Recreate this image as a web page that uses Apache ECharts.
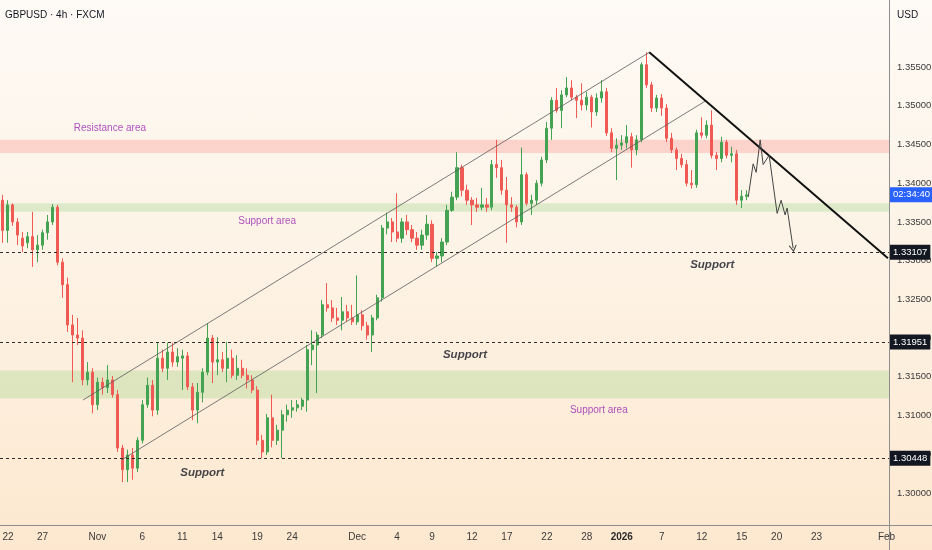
<!DOCTYPE html>
<html><head><meta charset="utf-8">
<script src="https://cdn.jsdelivr.net/npm/echarts@6/dist/echarts.min.js"></script>
<style>
html,body{margin:0;padding:0;}
body{width:932px;height:550px;overflow:hidden;background:linear-gradient(to bottom,#fefaf5 0%,#fdf4e8 40%,#fde8cf 100%);}
#chart{width:932px;height:550px;}
</style></head><body><div id="chart"></div>
<script>
// ---- data ----
const opens=[1.3378,1.3339,1.3372,1.3350,1.3329,1.3323,1.3331,1.3314,1.3320,1.3336,1.3350,1.3369,1.3298,1.3269,1.3217,1.3204,1.3200,1.3146,1.3156,1.3114,
1.3143,1.3136,1.3146,1.3127,1.3058,1.3030,1.3049,1.3032,1.3068,1.3114,1.3139,1.3107,1.3174,1.3161,1.3182,1.3169,1.3174,1.3177,1.3137,1.3107,
1.3130,1.3156,1.3200,1.3169,1.3172,1.3161,1.3174,1.3152,1.3161,1.3152,1.3146,1.3133,1.3068,1.3053,1.3097,1.3068,1.3081,1.3101,1.3107,1.3110,
1.3112,1.3120,1.3185,1.3191,1.3204,1.3243,1.3239,1.3226,1.3223,1.3234,1.3226,1.3221,1.3230,1.3216,1.3204,1.3226,1.3252,1.3342,1.3350,1.3337,
1.3329,1.3350,1.3340,1.3329,1.3320,1.3333,1.3347,1.3303,1.3306,1.3324,1.3365,1.3382,1.3420,1.3391,1.3378,1.3372,1.3369,1.3372,1.3369,1.3424,
1.3420,1.3391,1.3372,1.3369,1.3350,1.3411,1.3374,1.3378,1.3400,1.3430,1.3471,1.3507,1.3494,1.3514,1.3523,1.3511,1.3507,1.3501,1.3511,1.3492,
1.3510,1.3518,1.3465,1.3445,1.3449,1.3452,1.3460,1.3443,1.3456,1.3553,1.3527,1.3497,1.3510,1.3497,1.3458,1.3443,1.3432,1.3424,1.3400,1.3398,
1.3465,1.3462,1.3475,1.3436,1.3432,1.3453,1.3436,1.3438,1.3378,1.3383];
const closes=[1.3339,1.3372,1.3350,1.3333,1.3319,1.3331,1.3314,1.3320,1.3336,1.3350,1.3369,1.3298,1.3269,1.3217,1.3204,1.3200,1.3146,1.3156,1.3114,1.3143,
1.3136,1.3146,1.3127,1.3058,1.3030,1.3049,1.3032,1.3068,1.3114,1.3139,1.3107,1.3174,1.3161,1.3182,1.3169,1.3176,1.3177,1.3137,1.3107,1.3130,
1.3156,1.3200,1.3169,1.3172,1.3161,1.3174,1.3152,1.3161,1.3152,1.3146,1.3133,1.3068,1.3053,1.3097,1.3068,1.3081,1.3101,1.3107,1.3110,1.3114,
1.3120,1.3185,1.3191,1.3204,1.3243,1.3239,1.3226,1.3223,1.3234,1.3226,1.3221,1.3230,1.3216,1.3204,1.3226,1.3252,1.3342,1.3350,1.3337,1.3329,
1.3350,1.3340,1.3329,1.3320,1.3333,1.3347,1.3303,1.3306,1.3324,1.3365,1.3382,1.3420,1.3391,1.3378,1.3372,1.3369,1.3372,1.3369,1.3424,1.3420,
1.3391,1.3372,1.3369,1.3350,1.3411,1.3374,1.3378,1.3400,1.3430,1.3471,1.3507,1.3494,1.3514,1.3523,1.3511,1.3507,1.3501,1.3511,1.3492,1.3510,
1.3518,1.3465,1.3445,1.3449,1.3452,1.3460,1.3443,1.3456,1.3553,1.3527,1.3497,1.3510,1.3497,1.3458,1.3443,1.3432,1.3424,1.3400,1.3398,1.3465,
1.3462,1.3475,1.3436,1.3432,1.3453,1.3436,1.3438,1.3378,1.3383,1.3385];
const lows=[1.3323,1.3323,1.3345,1.3320,1.3311,1.3316,1.3292,1.3298,1.3314,1.3327,1.3346,1.3294,1.3252,1.3208,1.3143,1.3191,1.3139,1.3139,1.3103,1.3107,
1.3127,1.3129,1.3123,1.3053,1.3014,1.3014,1.3017,1.3027,1.3064,1.3110,1.3099,1.3101,1.3156,1.3146,1.3163,1.3163,1.3133,1.3133,1.3094,1.3090,
1.3117,1.3152,1.3142,1.3152,1.3156,1.3143,1.3148,1.3146,1.3148,1.3135,1.3129,1.3062,1.3045,1.3049,1.3059,1.3062,1.3045,1.3092,1.3097,1.3105,
1.3107,1.3105,1.3165,1.3129,1.3200,1.3234,1.3221,1.3217,1.3210,1.3221,1.3217,1.3217,1.3210,1.3198,1.3182,1.3223,1.3247,1.3334,1.3324,1.3324,
1.3323,1.3333,1.3324,1.3314,1.3314,1.3327,1.3298,1.3292,1.3298,1.3320,1.3363,1.3378,1.3383,1.3372,1.3346,1.3363,1.3365,1.3363,1.3365,1.3407,
1.3385,1.3323,1.3363,1.3343,1.3346,1.3371,1.3359,1.3372,1.3396,1.3426,1.3456,1.3491,1.3471,1.3511,1.3507,1.3484,1.3494,1.3494,1.3472,1.3487,
1.3504,1.3461,1.3440,1.3404,1.3443,1.3445,1.3420,1.3436,1.3453,1.3523,1.3492,1.3492,1.3487,1.3453,1.3439,1.3417,1.3420,1.3396,1.3393,1.3394,
1.3458,1.3458,1.3432,1.3417,1.3427,1.3432,1.3427,1.3372,1.3368,1.3378];
const highs=[1.3385,1.3378,1.3374,1.3355,1.3337,1.3337,1.3363,1.3333,1.3340,1.3359,1.3373,1.3372,1.3303,1.3278,1.3230,1.3226,1.3210,1.3169,1.3161,1.3149,
1.3149,1.3165,1.3151,1.3133,1.3062,1.3056,1.3058,1.3072,1.3120,1.3149,1.3146,1.3194,1.3185,1.3194,1.3194,1.3187,1.3185,1.3182,1.3142,1.3142,
1.3161,1.3219,1.3204,1.3201,1.3182,1.3195,1.3185,1.3178,1.3172,1.3161,1.3152,1.3138,1.3075,1.3102,1.3127,1.3088,1.3107,1.3114,1.3120,1.3120,
1.3123,1.3191,1.3210,1.3208,1.3249,1.3271,1.3249,1.3239,1.3253,1.3243,1.3243,1.3281,1.3236,1.3221,1.3230,1.3256,1.3346,1.3362,1.3355,1.3387,
1.3355,1.3359,1.3346,1.3337,1.3340,1.3359,1.3352,1.3311,1.3329,1.3372,1.3389,1.3440,1.3424,1.3398,1.3382,1.3381,1.3394,1.3381,1.3430,1.3456,
1.3430,1.3408,1.3382,1.3372,1.3446,1.3414,1.3385,1.3404,1.3434,1.3479,1.3511,1.3523,1.3520,1.3537,1.3533,1.3514,1.3529,1.3518,1.3514,1.3516,
1.3533,1.3523,1.3471,1.3458,1.3462,1.3475,1.3465,1.3462,1.3556,1.3569,1.3531,1.3514,1.3515,1.3502,1.3465,1.3446,1.3438,1.3430,1.3417,1.3469,
1.3485,1.3481,1.3494,1.3440,1.3460,1.3456,1.3447,1.3443,1.3391,1.3391];
const slotCount=178;
const tickSlots=[0,8,19,28,36,43,51,58,71,79,86,94,101,109,117,124,132,140,148,155,163,177];
const tickLabels=['22','27','Nov','6','11','14','19','24','Dec','4','9','12','17','22','28','2026','7','12','15','20','23','Feb'];
const supportLevels=[1.33107,1.31951,1.30448];
const resistanceArea=[1.3439,1.3456];
const supportAreaUpper=[1.3363,1.3374];
const supportAreaLower=[1.3122,1.3158];
const lastPrice=1.3385;
const countdownText='02:34:40';
const channelUpper=[[16.1,1.3120],[129.5,1.3569]];
const channelLower=[[23.9,1.3043],[140.7,1.3506]];
const trendLine=[[129.5,1.3569],[177.3,1.3303]];
const projection=[[149.3,1.3382],[150.3,1.3425],[150.9,1.3414],[151.7,1.3456],[152.3,1.3424],[153.5,1.3436],[155.1,1.3361],[155.9,1.3378],[156.7,1.3359],[157.1,1.3368],[158.3,1.3316]];
const noteSlots=[21.5,53.0,119.4,142.1,92.6,40.0];
const notePrices=[1.3471,1.3351,1.3107,1.3294,1.3179,1.3026];
const noteTexts=['Resistance area','Support area','Support area','Support','Support','Support'];
const noteKinds=['area','area','area','level','level','level'];

// ---- chart ----
const FONT="'Liberation Sans',Arial,sans-serif";
const cats=[];for(let i=0;i<slotCount;i++)cats.push('s'+i);
const labelAt={};tickSlots.forEach((s,i)=>{labelAt[s]=tickLabels[i];});
const candles=opens.map((o,i)=>[o,closes[i],lows[i],highs[i]]);
const UP='#43a352',DOWN='#ef5b54';

const bandColorGreen='rgba(120,200,100,0.24)';
const bandColorRed='rgba(250,120,110,0.27)';

const notesData=noteTexts.map((t,i)=>({
  value:[noteSlots[i],notePrices[i]],
  label:noteKinds[i]==='area'
    ?{show:true,position:'inside',formatter:t,color:'#9c27b0',fontSize:10,fontFamily:FONT}
    :{show:true,position:'inside',formatter:t,color:'#131722',fontSize:11.5,fontWeight:'bold',fontStyle:'italic',fontFamily:FONT}
}));

const projData=projection.map((p,i)=>i===projection.length-1
  ?{value:p,symbol:'path://M0,10 L5,0 L10,10',symbolSize:[7,6],symbolRotate:188,itemStyle:{color:'rgba(0,0,0,0)',borderColor:'#444',borderWidth:1}}
  :{value:p,symbol:'none'});

const lvlLabel=(txt,bg)=>({show:true,position:'end',distance:1,formatter:txt,color:'#fff',backgroundColor:bg,padding:[3,3,2,3],fontSize:9.5,fontFamily:FONT,opacity:1});

const chart=echarts.init(document.getElementById('chart'),null,{renderer:'canvas'});
chart.setOption({
  animation:false,
  backgroundColor:'transparent',
  textStyle:{fontFamily:FONT},
  title:[
    {text:'GBPUSD · 4h · FXCM',left:5,top:10,padding:0,textStyle:{fontSize:10,fontWeight:'normal',color:'#131722',fontFamily:FONT}},
    {text:'USD',left:897,top:10,padding:0,textStyle:{fontSize:10,fontWeight:'normal',color:'#131722',fontFamily:FONT}}
  ],
  grid:{left:0,right:43,top:28.3,bottom:18.3,containLabel:false,outerBoundsMode:'none'},
  xAxis:[
    {type:'category',data:cats,boundaryGap:true,
     axisLine:{show:false},axisTick:{show:false},splitLine:{show:false},
     axisLabel:{interval:0,margin:1,fontSize:10,color:'#3a3a3a',fontFamily:FONT,alignMinLabel:'left',
       formatter:(v,idx)=>{const l=labelAt[idx];if(!l)return '';return l==='2026'?'{b|2026}':l;},
       rich:{b:{fontWeight:'bold',fontSize:10,color:'#2a2a2a',fontFamily:FONT}}}},
    {type:'value',min:-0.5,max:slotCount-0.5,show:false}
  ],
  yAxis:{type:'value',position:'right',min:1.295,max:1.36,interval:0.005,
    axisLine:{show:false},axisTick:{show:false},splitLine:{show:false},
    axisLabel:{margin:8,fontSize:9.5,color:'#3a3a3a',fontFamily:FONT,
      formatter:v=>(v<1.2975||v>1.3575)?'':v.toFixed(5)}},
  series:[
    {type:'candlestick',xAxisIndex:0,yAxisIndex:0,data:candles,barWidth:2.6,
     itemStyle:{color:UP,color0:DOWN,borderColor:UP,borderColor0:DOWN,borderWidth:1},
     markArea:{silent:true,data:[
       [{yAxis:resistanceArea[0],itemStyle:{color:bandColorRed}},{yAxis:resistanceArea[1]}],
       [{yAxis:supportAreaUpper[0],itemStyle:{color:bandColorGreen}},{yAxis:supportAreaUpper[1]}],
       [{yAxis:supportAreaLower[0],itemStyle:{color:bandColorGreen}},{yAxis:supportAreaLower[1]}]
     ]},
     markLine:{silent:true,precision:5,symbol:['none','none'],data:[
       ...supportLevels.map(v=>({yAxis:v,lineStyle:{type:[3,3],color:'#2b2b2b',width:1},label:lvlLabel(v.toFixed(5),'#131722')}))
     ]}
    },
    {type:'line',xAxisIndex:1,yAxisIndex:0,data:channelUpper,symbol:'none',lineStyle:{color:'#5a5a5a',width:0.8},z:3,
     markLine:{silent:true,precision:5,symbol:['none','none'],data:[
       {yAxis:lastPrice,lineStyle:{color:'rgba(0,0,0,0)',width:0},label:lvlLabel(countdownText,'#2962ff')}
     ]}},
    {type:'line',xAxisIndex:1,yAxisIndex:0,data:channelLower,symbol:'none',lineStyle:{color:'#5a5a5a',width:0.8},z:3},
    {type:'line',xAxisIndex:1,yAxisIndex:0,data:trendLine,symbol:'none',lineStyle:{color:'#111',width:2},z:4},
    {type:'line',xAxisIndex:1,yAxisIndex:0,data:projData,lineStyle:{color:'#444',width:1},z:4},
    {type:'scatter',xAxisIndex:1,yAxisIndex:0,data:notesData,symbolSize:0,z:5}
  ],
  graphic:[
    {type:'line',shape:{x1:0,y1:525.5,x2:932,y2:525.5},style:{stroke:'#8e8e8e',lineWidth:1},z:100},
    {type:'line',shape:{x1:889.5,y1:0,x2:889.5,y2:550},style:{stroke:'#8e8e8e',lineWidth:1},z:100}
  ]
});
</script></body></html>
